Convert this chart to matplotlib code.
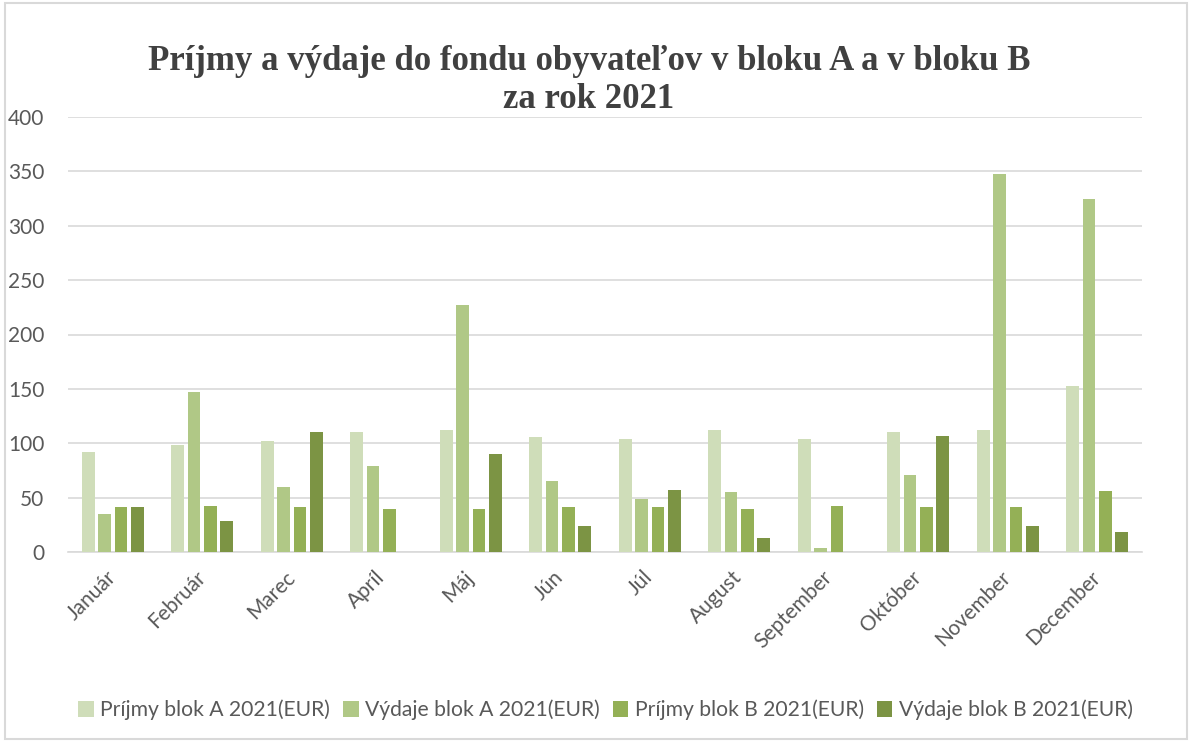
import numpy as np
import matplotlib.pyplot as plt
from matplotlib.patches import Rectangle

months = ['Január', 'Február', 'Marec', 'Apríl', 'Máj', 'Jún', 'Júl',
          'August', 'September', 'Október', 'November', 'December']
prijmy_a = [92, 98, 102, 110, 112, 106, 104, 112, 104, 110, 112, 152.5]
vydaje_a = [35, 147, 60, 79, 227, 65, 49, 55, 3.5, 71, 348, 325]
prijmy_b = [41, 42, 41, 40, 40, 41, 41, 40, 42, 41, 41, 56]
vydaje_b = [41, 28.5, 110, 0, 90, 24, 57, 13, 0, 106.5, 24, 18]

series = [
    ('Príjmy blok A 2021(EUR)', prijmy_a, '#cfddb9'),
    ('Výdaje blok A 2021(EUR)', vydaje_a, '#b0c886'),
    ('Príjmy blok B 2021(EUR)', prijmy_b, '#94b056'),
    ('Výdaje blok B 2021(EUR)', vydaje_b, '#7c9444'),
]

plt.rcParams['font.family'] = ['Lato', 'DejaVu Sans']
TXT = '#595959'

fig = plt.figure(figsize=(11.92, 7.42), dpi=100)
fig.patches.append(Rectangle((0.004, 0.004), 0.992, 0.992, transform=fig.transFigure,
                             fill=False, edgecolor='#d9d9d9', lw=1.5))
ax = fig.add_axes([68 / 1192, 1 - 552 / 742, (1142 - 68) / 1192, (552 - 117) / 742])

x = np.arange(len(months))
w = 0.142
step = 0.182
for i, (name, vals, col) in enumerate(series):
    ax.bar(x + (i - 1.5) * step, vals, width=w, color=col, label=name, zorder=3)

ax.set_xlim(-0.5, len(months) - 0.5)
ax.set_ylim(0, 400)
ax.set_yticks(range(0, 401, 50))
ax.grid(axis='y', color='#d9d9d9', lw=1.2, zorder=0)
for s in ['top', 'right', 'left']:
    ax.spines[s].set_visible(False)
ax.spines['bottom'].set_color('#d9d9d9')
ax.spines['bottom'].set_linewidth(1.2)
ax.tick_params(axis='both', length=0, labelsize=15, colors=TXT)
ax.tick_params(axis='y', pad=17)
ax.set_xticks(x)
ax.set_xticklabels(months, rotation=45, ha='right', va='center', rotation_mode='anchor')
ax.tick_params(axis='x', pad=16)

fig.text(0.494, 0.892, 'Príjmy a výdaje do fondu obyvateľov v bloku A a v bloku B\nza rok 2021',
         ha='center', va='center', fontsize=25, fontweight='bold',
         family=['Liberation Serif', 'DejaVu Serif'], color='#404040', linespacing=1.2)

fig.legend(loc='center', bbox_to_anchor=(0.508, 0.043), ncol=4, frameon=False,
           fontsize=15.2, labelcolor=TXT, handlelength=0.75, handleheight=0.75,
           handletextpad=0.3, columnspacing=0.6)

fig.savefig('out.png', dpi=100)
